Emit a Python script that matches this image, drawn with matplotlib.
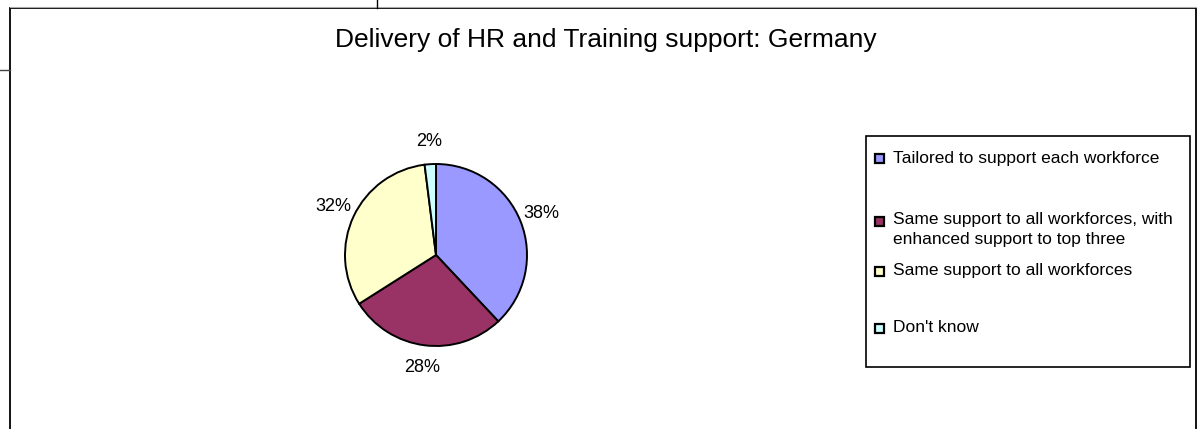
import matplotlib
matplotlib.use("Agg")
import matplotlib.pyplot as plt
from matplotlib.patches import Rectangle
from matplotlib.lines import Line2D

plt.rcParams['font.family'] = ['Liberation Sans', 'DejaVu Sans']

title = "Delivery of HR and Training support: Germany"
categories = [
    "Tailored to support each workforce",
    "Same support to all workforces, with\nenhanced support to top three",
    "Same support to all workforces",
    "Don't know",
]
shares = [38, 28, 32, 2]
colors = ["#9999FF", "#993366", "#FFFFCC", "#CCFFFF"]

W, H = 1200, 429
fig = plt.figure(figsize=(W / 100, H / 100), dpi=100)


def fx(px):
    return px / W


def fy(py):
    return 1 - py / H


# chart frame and neighbouring cell borders
fig.add_artist(Line2D([fx(10), fx(10), fx(1196), fx(1196)],
                      [fy(440), fy(8), fy(8), fy(440)],
                      color="black", lw=1.3, solid_joinstyle="miter"))
fig.add_artist(Line2D([fx(10), fx(1196)], [fy(7), fy(7)], color="#aaaaaa", lw=0.8))
fig.add_artist(Line2D([fx(0), fx(10)], [fy(70), fy(70)], color="#444444", lw=1.0))
fig.add_artist(Line2D([fx(377), fx(377)], [fy(0), fy(8)], color="black", lw=1.0))

fig.text(fx(606), fy(47), title, ha="center", va="baseline", fontsize=19)

# pie
cx, cy, r = 436, 255, 91
ax = fig.add_axes([fx(cx - r), fy(cy + r), 2 * r / W, 2 * r / H])
wedges, texts, autotexts = ax.pie(
    shares, colors=colors, startangle=90, counterclock=False,
    wedgeprops=dict(edgecolor="black", linewidth=1.4),
    autopct="%.0f%%", pctdistance=1.25,
    textprops=dict(fontsize=13, color="black"),
)
ax.set_xlim(-1, 1)
ax.set_ylim(-1, 1)
ax.set_aspect("equal")
ax.axis("off")

# legend box
lx0, lx1, ly0, ly1 = 866, 1190, 136, 367
fig.add_artist(Rectangle((fx(lx0), fy(ly1)), fx(lx1) - fx(lx0), fy(ly0) - fy(ly1),
                         facecolor="white", edgecolor="black", lw=1.2))
row_y = [158, 221, 271, 328]
s = 9
for label, col, y in zip(categories, colors, row_y):
    fig.add_artist(Rectangle((fx(875), fy(y + s / 2)), s / W, s / H,
                             facecolor=col, edgecolor="black", lw=1.6))
    if "\n" in label:
        fig.text(fx(893), fy(y - 9), label, ha="left", va="top",
                 fontsize=12.5, linespacing=1.45)
    else:
        fig.text(fx(893), fy(y), label, ha="left", va="center", fontsize=12.5)

fig.savefig("out.png", dpi=100, facecolor="white")
